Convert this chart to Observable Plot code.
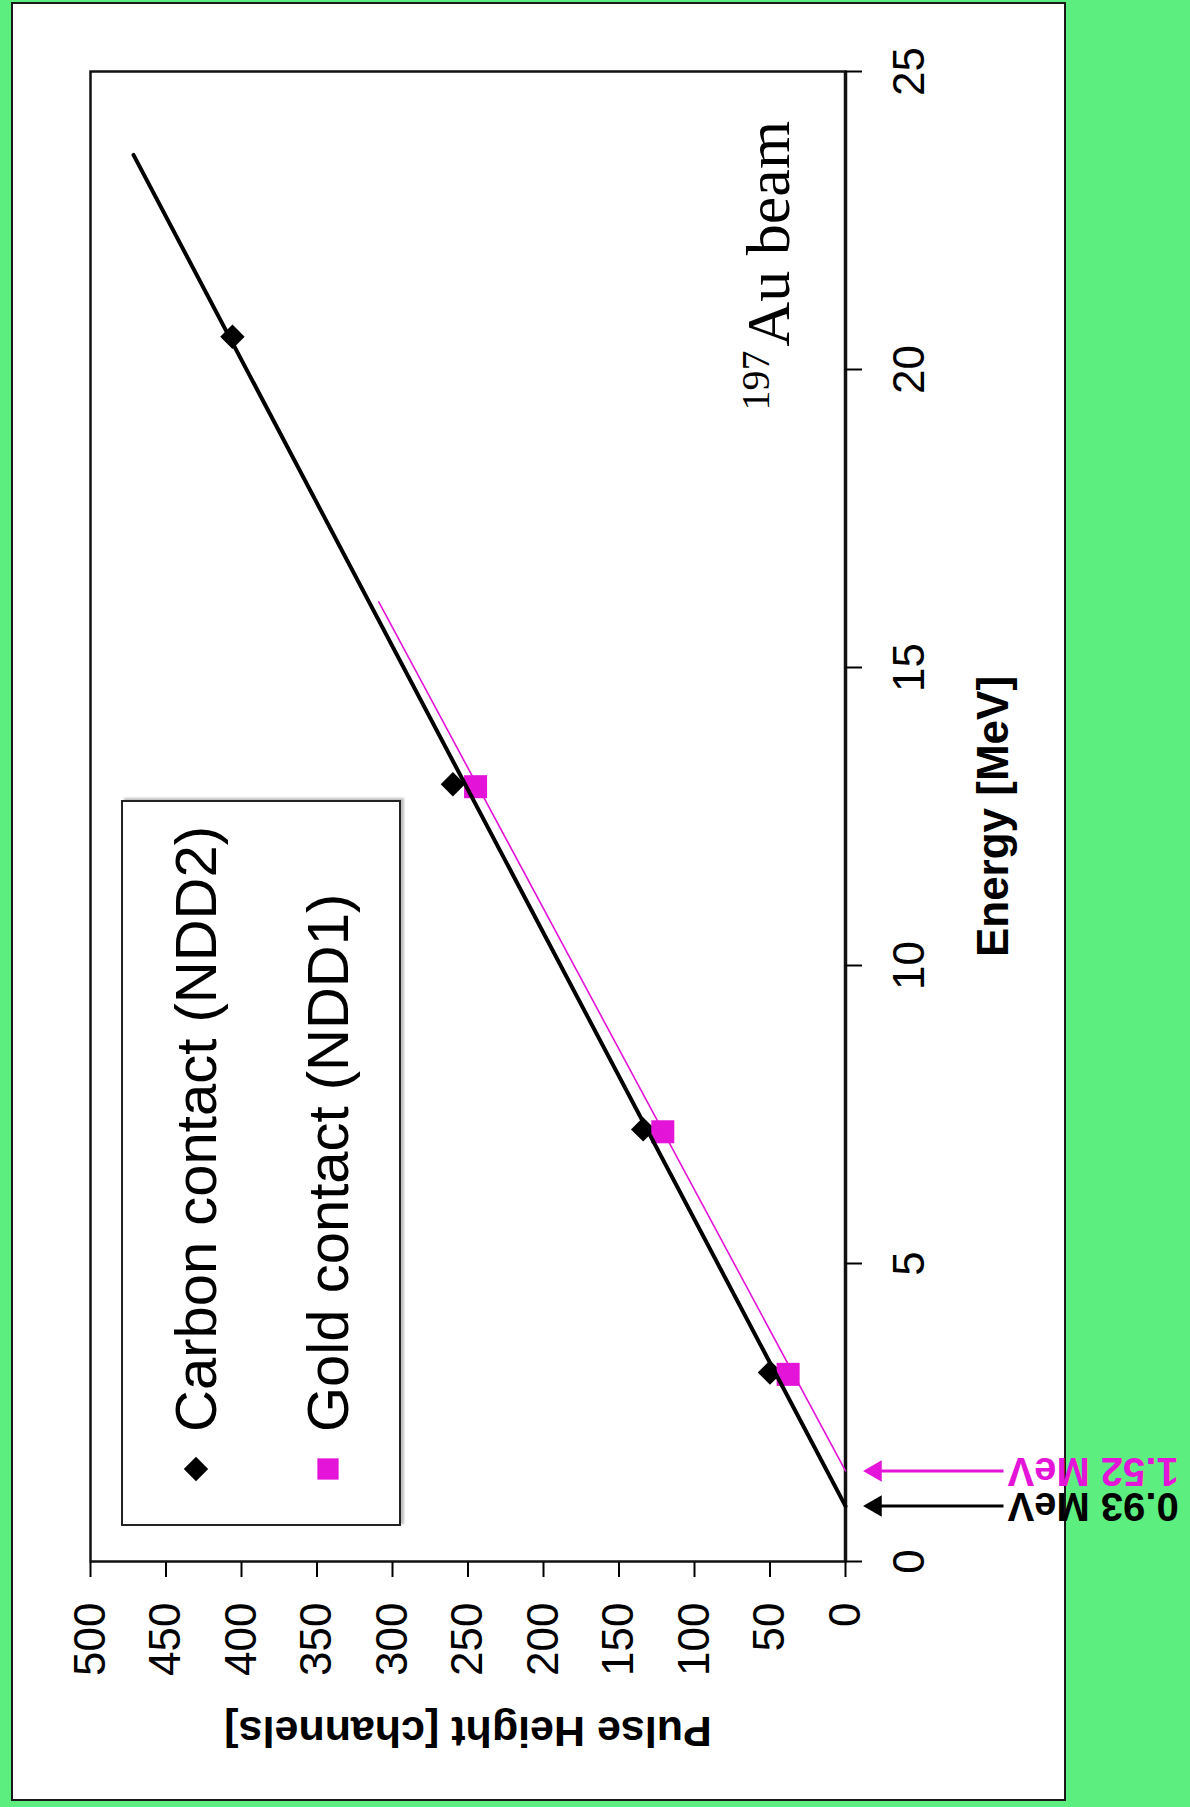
<!DOCTYPE html>
<html>
<head>
<meta charset="utf-8">
<script src="https://cdn.jsdelivr.net/npm/d3@7"></script>
<script src="https://cdn.jsdelivr.net/npm/@observablehq/plot@0.6"></script>
<style>
  html, body { margin: 0; padding: 0; }
  body { width: 1190px; height: 1807px; background: #5cef80; overflow: hidden; position: relative; color: #000;
         font-family: "Liberation Sans", Arial, sans-serif; }
  #card { position: absolute; left: 11px; top: 2px; width: 1055px; height: 1799px; background: #fff;
          border: 2px solid #1a1a1a; box-sizing: border-box; }
  #rot { position: absolute; left: 0; top: 0; width: 1807px; height: 1190px; transform-origin: 0 0;
         transform: translate(0px, 1807px) rotate(-90deg); }
  #rot svg { position: absolute; left: 0; top: 0; overflow: visible; }
  #legend { position: absolute; left: 281px; top: 121px; width: 726px; height: 280px; background: #fff;
            border: 2px solid #222; box-sizing: border-box; box-shadow: 2px 3px 2px rgba(0,0,0,0.25); }
  .lg-sym { position: absolute; }
  .lg-txt { position: absolute; font-size: 58px; line-height: 58px; white-space: nowrap; }
</style>
</head>
<body>
<div id="card"></div>
<div id="rot"></div>
<script>
// ---- data ----
const energyTicks = [0, 5, 10, 15, 20, 25];
const pulseTicks = [0, 50, 100, 150, 200, 250, 300, 350, 400, 450, 500];

const seriesNames = ["Carbon contact (NDD2)", "Gold contact (NDD1)"];
const seriesColors = ["#000000", "#e414d8"];
const seriesSymbols = ["diamond2", "square"];

const carbonEnergy = [3.17, 7.25, 13.04, 20.55];
const carbonPulse = [50, 134, 260, 406];
const goldEnergy = [3.14, 7.21, 13.0];
const goldPulse = [38, 121, 245];

// linear fits: zero-crossing energy [MeV], slope [channels/MeV], last energy drawn
const carbonFit = { zero: 0.93, slope: 20.8, end: 23.6 };
const goldFit = { zero: 1.52, slope: 21.2, end: 16.1 };

const thresholdEnergy = [0.93, 1.52];
const thresholdLabels = ["0.93 MeV", "1.52 MeV"];
const thresholdColors = ["#000000", "#e414d8"];

const beamMass = "197";
const beamText = "Au beam";
const beamPos = { energy: 20.32, pulse: 37.7 };

// ---- tables built from arrays ----
const carbon = carbonEnergy.map((e, i) => ({ energy: e, pulse: carbonPulse[i] }));
const gold = goldEnergy.map((e, i) => ({ energy: e, pulse: goldPulse[i] }));
const fitLine = f => [{ energy: f.zero, pulse: 0 }, { energy: f.end, pulse: f.slope * (f.end - f.zero) }];
const thresholds = thresholdEnergy.map((e, i) => ({ energy: e, label: thresholdLabels[i], color: thresholdColors[i] }));

// layout (unrotated frame)
const W = 1807, H = 1190, mL = 245, mR = 72, mT = 90, mB = 345;
const k = 500 / (H - mT - mB); // channels per pixel, for annotations below the axis

const arrowMarks = thresholds.flatMap(t => [
  Plot.link([t], { x1: "energy", x2: "energy", y1: () => -30 * k, y2: () => -158 * k, stroke: t.color, strokeWidth: 3 }),
  Plot.dot([t], { x: "energy", y: () => -30 * k, symbol: "triangle", r: 8, fill: t.color }),
  Plot.text([t], { x: "energy", y: () => -162 * k, text: "label", rotate: -90, textAnchor: "end", lineAnchor: "middle",
                   fill: t.color, fontSize: 40, fontWeight: "bold" })
]);

const chart = Plot.plot({
  width: W, height: H,
  marginLeft: mL, marginRight: mR, marginTop: mT, marginBottom: mB,
  style: { fontFamily: "'Liberation Sans', Arial, sans-serif", background: "transparent", overflow: "visible", color: "#000" },
  x: { domain: [0, 25] },
  y: { domain: [0, 500] },
  marks: [
    Plot.frame({ stroke: "#111", strokeWidth: 2.5 }),
    Plot.ruleY([0], { stroke: "#111", strokeWidth: 3.5 }),
    Plot.axisX({ ticks: energyTicks, tickSize: 17, tickPadding: 30, fontSize: 44, label: null, strokeWidth: 2 }),
    Plot.axisY({ ticks: pulseTicks, tickSize: 15, tickPadding: 26, fontSize: 44, label: null, strokeWidth: 2 }),
    Plot.text(["Energy [MeV]"], { text: d => d, frameAnchor: "bottom", dy: 148, lineAnchor: "middle",
                                 fontSize: 44, fontWeight: "bold" }),
    Plot.text(["Pulse Height [channels]"], { text: d => d, frameAnchor: "left", dx: -169, rotate: -90,
                                            textAnchor: "middle", lineAnchor: "middle", fontSize: 43, fontWeight: "bold" }),
    Plot.dot(carbon, { x: "energy", y: "pulse", symbol: seriesSymbols[0], r: 11, fill: seriesColors[0] }),
    Plot.dot(gold, { x: "energy", y: "pulse", symbol: seriesSymbols[1], r: 13, fill: seriesColors[1] }),
    Plot.line(fitLine(goldFit), { x: "energy", y: "pulse", stroke: seriesColors[1], strokeWidth: 1.6 }),
    Plot.line(fitLine(carbonFit), { x: "energy", y: "pulse", stroke: seriesColors[0], strokeWidth: 4 }),
    Plot.text([beamPos], { x: "energy", y: "pulse", text: () => beamMass, textAnchor: "end", lineAnchor: "bottom",
                           dy: -20, fontSize: 40, fontFamily: "'Liberation Serif', 'Times New Roman', serif" }),
    Plot.text([beamPos], { x: "energy", y: "pulse", text: () => beamText, textAnchor: "start", lineAnchor: "bottom",
                           dx: 4, fontSize: 62, fontFamily: "'Liberation Serif', 'Times New Roman', serif" }),
    ...arrowMarks
  ]
});

const rot = document.getElementById("rot");
rot.appendChild(chart);

// legend (drawn in the same rotated frame)
const legend = document.createElement("div");
legend.id = "legend";
const rowsV = [73, 205];
seriesNames.forEach((name, i) => {
  const sym = document.createElementNS("http://www.w3.org/2000/svg", "svg");
  sym.setAttribute("width", 30); sym.setAttribute("height", 30);
  sym.setAttribute("class", "lg-sym");
  sym.style.left = (55 - 15) + "px";
  sym.style.top = (rowsV[i] - 15) + "px";
  const p = document.createElementNS("http://www.w3.org/2000/svg", "path");
  const sz = i === 0 ? Math.PI * 11 * 11 : Math.PI * 12 * 12;
  const symType = i === 0 ? d3.symbolDiamond2 : d3.symbolSquare;
  p.setAttribute("d", d3.symbol(symType, sz)());
  p.setAttribute("transform", "translate(15,15)");
  p.setAttribute("fill", seriesColors[i]);
  sym.appendChild(p);
  legend.appendChild(sym);
  const t = document.createElement("div");
  t.className = "lg-txt";
  t.textContent = name;
  t.style.left = "92px";
  t.style.top = (rowsV[i] - 29) + "px";
  legend.appendChild(t);
});
rot.appendChild(legend);
</script>
</body>
</html>
